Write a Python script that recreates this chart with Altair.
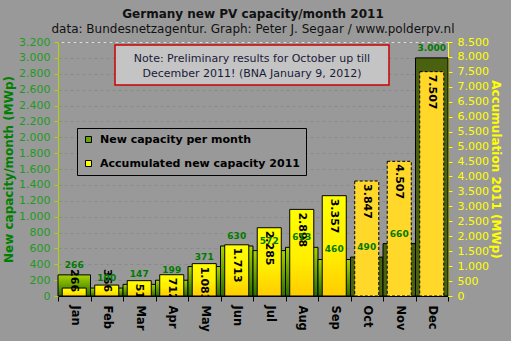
import altair as alt
import pandas as pd

months = ["Jan", "Feb", "Mar", "Apr", "May", "Jun", "Jul", "Aug", "Sep", "Oct", "Nov", "Dec"]
new_capacity = [266, 100, 147, 199, 371, 630, 572, 613, 460, 490, 660, 3000]
accumulated = [266, 366, 513, 712, 1083, 1713, 2285, 2898, 3357, 3847, 4507, 7507]
preliminary = [False] * 9 + [True] * 3
series_names = ["New capacity per month", "Accumulated new capacity 2011"]
series_colors = ["#66a800", "#ffff00"]
left_ticks = list(range(0, 3201, 200))
right_ticks = list(range(0, 8501, 500))
note_lines = ["Note: Preliminary results for October up till",
              "December 2011! (BNA January 9, 2012)"]

df = pd.DataFrame({"month": months, "new": new_capacity, "acc": accumulated, "prelim": preliminary})
legend_df = pd.DataFrame({"series": series_names})
one_row = pd.DataFrame({"k": [0]})

W, H = 390, 254
FONT = "DejaVu Sans"

x_axis = alt.Axis(title=None, labelAngle=90, labelFont=FONT, labelFontSize=11.5, labelFontWeight="bold",
                  labelColor="black", domainColor="black", tickColor="black", tickBand="extent",
                  tickSize=5, labelPadding=4)
X = alt.X("month:N", sort=months, scale=alt.Scale(paddingInner=0, paddingOuter=0), axis=x_axis)

left_scale = alt.Scale(domain=[0, 3200], nice=False)
right_scale = alt.Scale(domain=[0, 8500], nice=False)

left_axis = alt.Axis(values=left_ticks, format=",d", orient="left", labelColor="#1f9a1f", labelFont=FONT,
                     labelFontSize=11, tickColor="#b4d400", domainColor="#b4d400", tickSize=4, labelPadding=4,
                     grid=True, gridColor="#8a8a8a", gridDash=[3, 3],
                     title="New capacity/month (MWp)", titleColor="#008000", titleFont=FONT, titleFontSize=12,
                     titleFontWeight="bold", titleX=-50, titleY=H / 2, titleAngle=-90, titleAlign="center",
                     titleBaseline="middle")
right_axis = alt.Axis(values=right_ticks, format=",d", orient="right", labelColor="#ffff00", labelFont=FONT,
                      labelFontSize=11, tickColor="#ffff00", domainColor="#ffff00", tickSize=4, labelPadding=5,
                      grid=False,
                      title="Accumulation 2011 (MWp)", titleColor="#ffff00", titleFont=FONT, titleFontSize=12,
                      titleFontWeight="bold", titleX=47, titleY=H / 2, titleAngle=90, titleAlign="center",
                      titleBaseline="middle")

green_grad = alt.Gradient(gradient="linear", x1=0, x2=0, y1=0, y2=1,
                          stops=[alt.GradientStop(color="#a8d400", offset=0),
                                 alt.GradientStop(color="#2b6e00", offset=1)])
yellow_grad = alt.Gradient(gradient="linear", x1=0, x2=0, y1=0, y2=1,
                           stops=[alt.GradientStop(color="#ffff00", offset=0),
                                  alt.GradientStop(color="#fff000", offset=0.55),
                                  alt.GradientStop(color="#ffcc00", offset=1)])

base = alt.Chart(df)

green_bars = base.transform_filter("!datum.prelim").mark_bar(
    fill=green_grad, stroke="black", strokeWidth=1).encode(
    x=X, y=alt.Y("new:Q", scale=left_scale, axis=left_axis))
green_bars_p = base.transform_filter("datum.prelim").mark_bar(
    fill="#4a6210", stroke="black", strokeWidth=1).encode(
    x=X, y=alt.Y("new:Q", scale=left_scale, axis=None))

yellow_bars = base.transform_filter("!datum.prelim").mark_bar(
    fill=yellow_grad, stroke="black", strokeWidth=1, width={"band": 0.74}).encode(
    x=X, y=alt.Y("acc:Q", scale=right_scale, axis=right_axis))
yellow_bars_p = base.transform_filter("datum.prelim").mark_bar(
    fill="#ffd829", stroke="black", strokeWidth=1, strokeDash=[3, 2], width={"band": 0.74}).encode(
    x=X, y=alt.Y("acc:Q", scale=right_scale, axis=None))

acc_labels = base.transform_calculate(
    pos="datum.acc < 400 ? 1000 : datum.acc"
).mark_text(angle=90, align="left", baseline="middle", dx=3, font=FONT, fontSize=11,
            fontWeight="bold", color="black", clip=True).encode(
    x=X, y=alt.Y("pos:Q", scale=right_scale, axis=None),
    text=alt.Text("acc:Q", format=",d"))

new_labels = base.mark_text(baseline="bottom", dy=-5, font=FONT, fontSize=9, fontWeight="bold",
                            color="#007a00").encode(
    x=X, y=alt.Y("new:Q", scale=left_scale, axis=None),
    text=alt.Text("new:Q", format=",d"))

legend_layer = alt.Chart(legend_df).mark_point(shape="square", filled=True, opacity=0).encode(
    color=alt.Color("series:N", scale=alt.Scale(domain=series_names, range=series_colors),
                    legend=alt.Legend(orient="none", legendX=19, legendY=86, title=None,
                                      fillColor="#999999", strokeColor="black", padding=6,
                                      labelFont=FONT, labelFontWeight="bold", labelFontSize=11,
                                      labelColor="black", labelLimit=0, symbolType="square",
                                      symbolSize=36, symbolStrokeColor="black", symbolStrokeWidth=1,
                                      symbolOpacity=1, rowPadding=12, labelOffset=6))
)

note_box = alt.Chart(one_row).mark_rect(fill="#c4c4c4", stroke="#cc0000", strokeWidth=1.5).encode(
    x=alt.value(57), x2=alt.value(331), y=alt.value(3), y2=alt.value(43))
note_text = alt.Chart(one_row).mark_text(text=note_lines, font=FONT, fontSize=11, color="#1a1a3a",
                                         align="center", baseline="middle", lineHeight=15).encode(
    x=alt.value(194), y=alt.value(17))

chart = alt.layer(
    green_bars, green_bars_p, yellow_bars, yellow_bars_p, acc_labels, new_labels,
    note_box, note_text, legend_layer
).resolve_scale(y="independent").properties(
    width=W, height=H,
    autosize=alt.AutoSizeParams(type="none"),
    padding={"left": 58, "top": 42, "right": 63, "bottom": 45},
    background="#999999",
    title=alt.TitleParams(text="Germany new PV capacity/month 2011",
                          subtitle="data: Bundesnetzagentur. Graph: Peter J. Segaar / www.polderpv.nl",
                          font=FONT, fontSize=12, fontWeight="bold", color="#111111",
                          subtitleFont=FONT, subtitleFontSize=12, subtitleColor="#111111",
                          anchor="middle", offset=0, subtitlePadding=3)
).configure_view(fill="#c0c0c0", stroke=None).configure(font=FONT)

chart.save("out.html", embed_options={
    "renderer": "svg", "actions": False,
    "formatLocale": {"decimal": ",", "thousands": ".", "grouping": [3], "currency": ["", " €"]}
})
